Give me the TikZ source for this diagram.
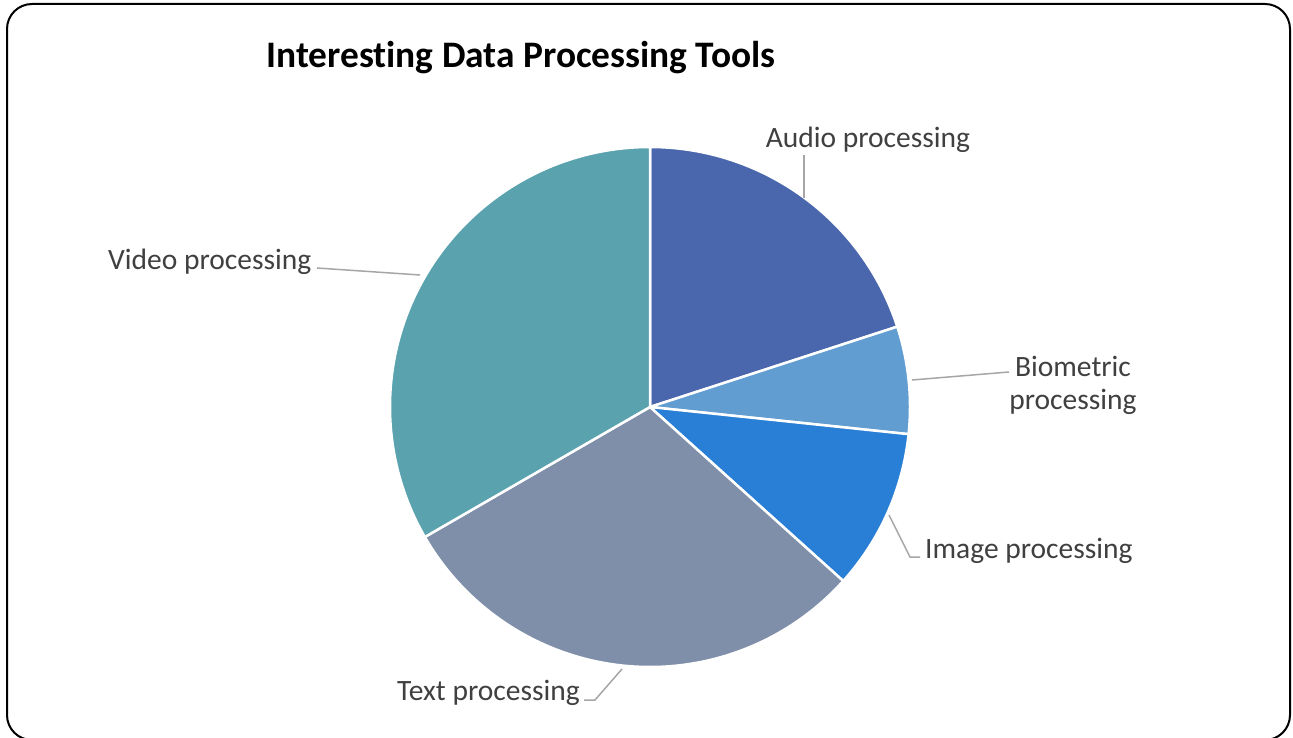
\documentclass[tikz,border=0pt]{standalone}
\usepackage{fontspec}
\setmainfont{Carlito}[Ligatures={NoCommon}]
\definecolor{audioC}{HTML}{4A66AC}
\definecolor{bioC}{HTML}{629DD1}
\definecolor{imageC}{HTML}{297FD5}
\definecolor{textC}{HTML}{7F8FA9}
\definecolor{videoC}{HTML}{5AA2AE}
\definecolor{labelC}{HTML}{404040}
\definecolor{leaderC}{HTML}{A6A6A6}
\tikzset{
  slice/.style={draw=white, line width=2.5pt, line join=round},
  lbl/.style={text=labelC, font=\fontsize{29.5}{33}\selectfont, inner sep=0pt},
  leader/.style={draw=leaderC, line width=1.5pt},
  frame/.style={draw=black, line width=2pt, rounded corners=25pt}
}
\begin{document}
\begin{tikzpicture}[x=1pt,y=1pt]
\useasboundingbox (0,0) rectangle (1293,737);
\fill[white] (0,0) rectangle (1293,737);
\draw[frame] (7,-3) rectangle (1290,733);
\node[font=\bfseries\fontsize{37.4}{40}\selectfont, anchor=base, inner sep=0pt] (title) at (521,669) {Interesting Data Processing Tools};
% pie
\coordinate (c) at (650,330);
\fill[audioC, slice] (c) -- ++(18:260) arc[start angle=18, end angle=90, radius=260] -- cycle;
\fill[bioC, slice] (c) -- ++(-6:260) arc[start angle=-6, end angle=18, radius=260] -- cycle;
\fill[imageC, slice] (c) -- ++(-42:260) arc[start angle=-42, end angle=-6, radius=260] -- cycle;
\fill[textC, slice] (c) -- ++(-150:260) arc[start angle=-150, end angle=-42, radius=260] -- cycle;
\fill[videoC, slice] (c) -- ++(90:260) arc[start angle=90, end angle=210, radius=260] -- cycle;
% labels
\node[lbl, anchor=base] (audio) at (868,589) {Audio processing};
\node[lbl, align=center] (bio) at (1073,352) {Biometric\\processing};
\node[lbl, anchor=base west] (image) at (925,179) {Image processing};
\node[lbl, anchor=base east] (text) at (580,37) {Text processing};
\node[lbl, anchor=base west] (video) at (108,467) {Video processing};
% leader points
\coordinate (pa) at (804,539);
\coordinate (ea) at (804,582);
\coordinate (pb) at (912,357);
\coordinate (eb) at (1009,365);
\coordinate (pi) at (889,222);
\coordinate (ki) at (910,180);
\coordinate (ei) at (920,180);
\coordinate (pt) at (622,68);
\coordinate (kt) at (595,37);
\coordinate (et) at (584,37);
\coordinate (ev) at (317,469);
\coordinate (pv) at (420,462);
\draw[leader] (pa) -- (ea);
\draw[leader] (pb) -- (eb);
\draw[leader] (pi) -- (ki) -- (ei);
\draw[leader] (pt) -- (kt) -- (et);
\draw[leader] (ev) -- (pv);
\end{tikzpicture}
\end{document}
